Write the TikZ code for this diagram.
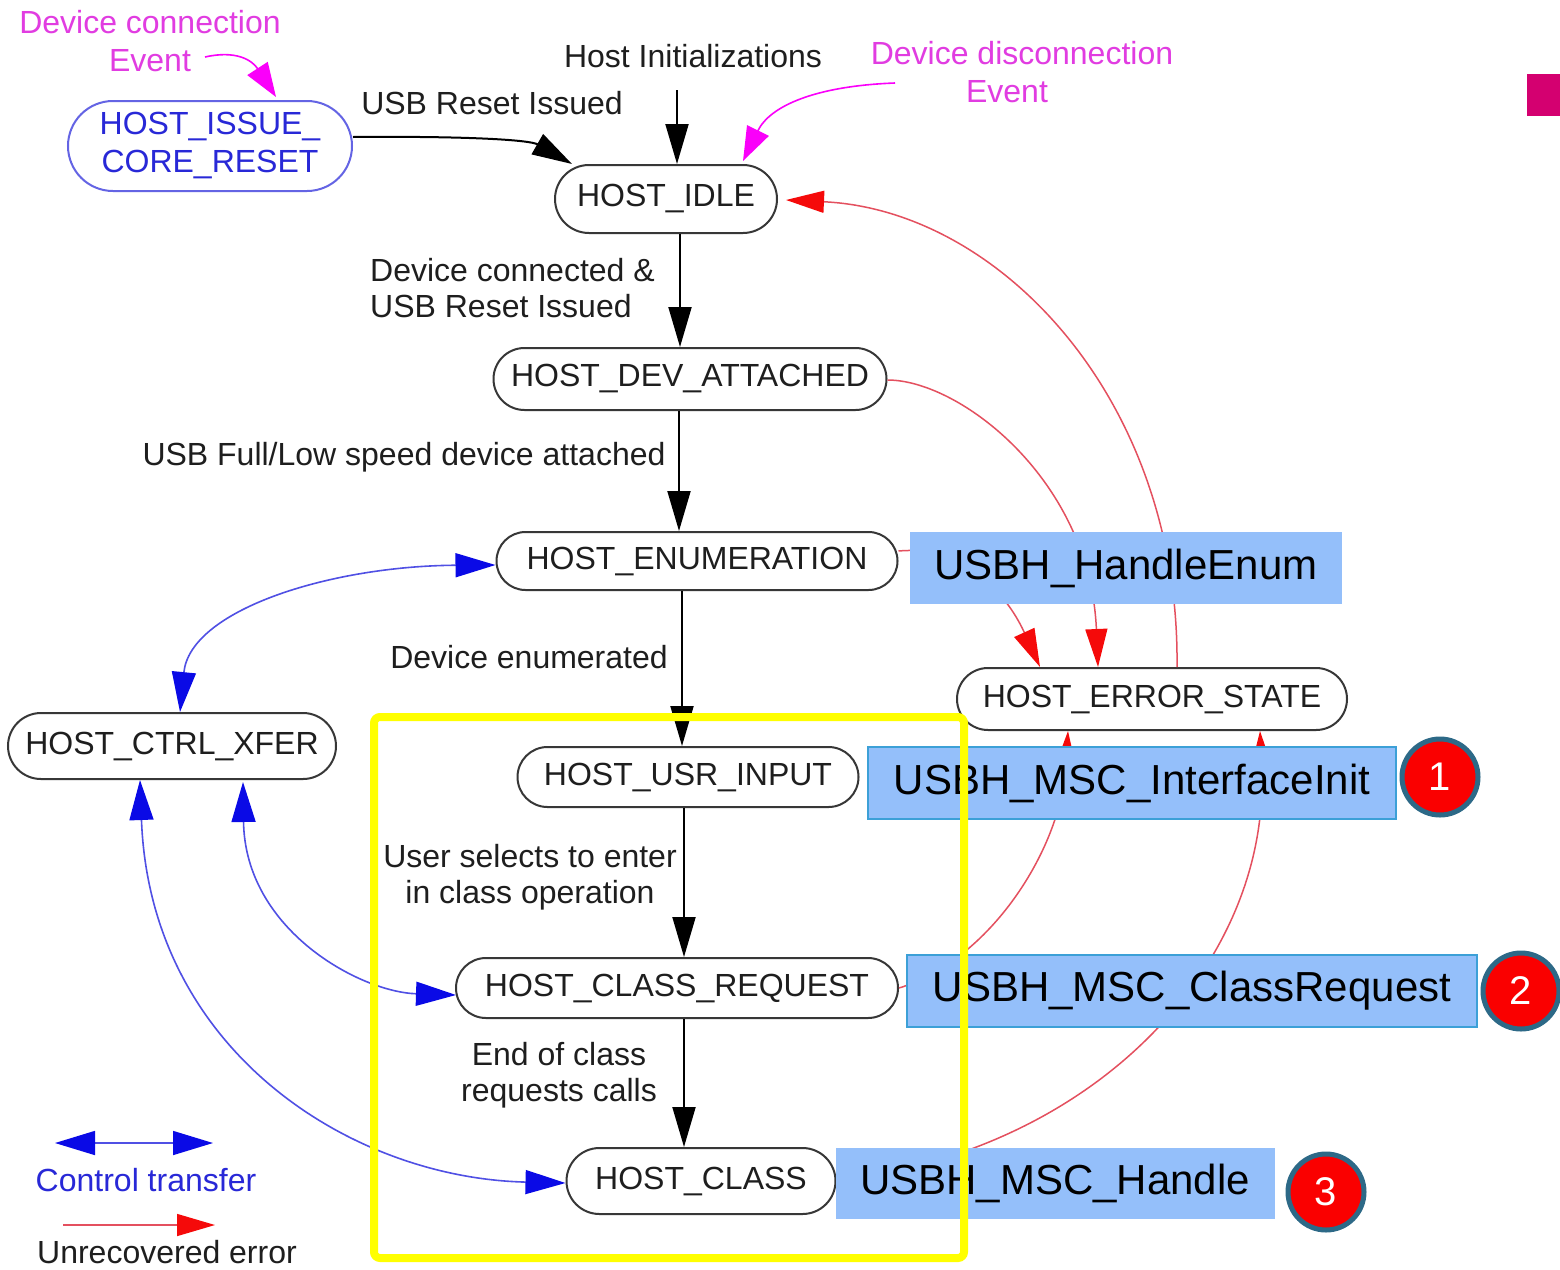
\documentclass[tikz,border=0pt]{standalone}
\usepackage{fontspec}
\setmainfont{Liberation Sans}
\usetikzlibrary{arrows.meta,shapes.misc,calc}

\definecolor{nodeline}{RGB}{55,55,55}
\definecolor{txt}{RGB}{30,30,30}
\definecolor{ctrlblue}{RGB}{80,80,228}
\definecolor{tipblue}{RGB}{10,10,230}
\definecolor{issueblue}{RGB}{40,40,215}
\definecolor{issueedge}{RGB}{100,100,228}
\definecolor{errred}{RGB}{228,80,95}
\definecolor{tipred}{RGB}{245,10,10}
\definecolor{evmag}{RGB}{225,60,225}
\definecolor{tipmag}{RGB}{250,0,250}
\definecolor{fnfill}{RGB}{148,191,250}
\definecolor{fnedge}{RGB}{60,160,215}
\definecolor{badgered}{RGB}{250,0,0}
\definecolor{badgeedge}{RGB}{45,105,135}
\definecolor{framey}{RGB}{255,255,0}
\definecolor{cornerpink}{RGB}{212,0,112}

\begin{document}
\begin{tikzpicture}[x=1pt,y=-1pt,
  hstate/.style={rounded rectangle, draw=nodeline, line width=2pt, fill=white,
    text=txt, font=\fontsize{32}{37}\selectfont, inner sep=0pt},
  lbl/.style={text=txt, font=\fontsize{32}{35.5}\selectfont, inner sep=0pt},
  evlbl/.style={text=evmag, font=\fontsize{32}{38}\selectfont, inner sep=0pt, align=center},
  flow/.style={draw=black, line width=2pt, -{Triangle[length=40pt,width=23pt]}},
  ctrl/.style={draw=ctrlblue, line width=1.6pt,
    {Triangle[length=40pt,width=24pt,color=tipblue]}-{Triangle[length=40pt,width=24pt,color=tipblue]}},
  errflow/.style={draw=errred, line width=1.5pt, -{Triangle[length=38pt,width=22pt,color=tipred]}},
  evflow/.style={draw=tipmag, line width=1.6pt, -{Triangle[length=34pt,width=24pt,color=tipmag]}},
  fnbox/.style={fill=fnfill, text=black, font=\fontsize{42}{46}\selectfont, inner sep=0pt, minimum height=72pt},
  fnedged/.style={fnbox, draw=fnedge, line width=2pt},
  badge/.style={circle, fill=badgered, draw=badgeedge, line width=5pt, minimum size=76pt,
    inner sep=0pt, text=white, font=\fontsize{40}{40}\selectfont}
]
\useasboundingbox (0,0) rectangle (1560,1269);
\fill[white] (0,0) rectangle (1560,1269);

% ---- states ----
\node[hstate, draw=issueedge, text=issueblue, align=center, minimum width=284pt, minimum height=90pt,
  font=\fontsize{32}{38}\selectfont] (issue) at (210,146) {HOST\_ISSUE\_\\CORE\_RESET};
\node[hstate, minimum width=222pt, minimum height=68pt] (idle) at (666,199) {HOST\_IDLE};
\node[hstate, minimum width=393pt, minimum height=62pt] (att) at (690,379) {HOST\_DEV\_ATTACHED};
\node[hstate, minimum width=401pt, minimum height=58pt] (enum) at (697,561) {HOST\_ENUMERATION};
\node[hstate, minimum width=390pt, minimum height=62pt] (errst) at (1152,699) {HOST\_ERROR\_STATE};
\node[hstate, minimum width=328pt, minimum height=66pt] (xfer) at (172,746) {HOST\_CTRL\_XFER};
\node[hstate, minimum width=341pt, minimum height=60pt] (usr) at (688,777) {HOST\_USR\_INPUT};
\node[hstate, minimum width=442pt, minimum height=60pt] (creq) at (677,988) {HOST\_CLASS\_REQUEST};
\node[hstate, minimum width=269pt, minimum height=66pt] (cls) at (701,1181) {HOST\_CLASS};

% ---- transition labels ----
\node[lbl] (linit) at (693,56) {Host Initializations};
\node[lbl] (lreset) at (492,103) {USB Reset Issued};
\node[lbl, align=left, anchor=west] (lconn) at (370,288) {Device connected \&\\USB Reset Issued};
\node[lbl] (lspeed) at (404,457) {USB Full/Low speed device attached};
\node[lbl] (lenum) at (529,657) {Device enumerated};
\node[lbl, align=center] (lsel) at (530,877) {User selects to enter\\in class operation};
\node[lbl, align=center] (lend) at (559,1075) {End of class\\requests calls};

% ---- events ----
\node[evlbl] (evconn) at (150,41) {Device connection\\Event};
\node[evlbl] (evdisc) at (1022,72) {Device disconnection\\\hspace*{-30pt}Event};
\coordinate (evconnA) at (205,57);
\coordinate (evdiscA) at (895,83);
\draw[evflow] (evconnA) .. controls (236,50) and (252,60) .. ($(issue.north east)+(-31,-3)$);
\draw[evflow] (evdiscA) .. controls (815,86) and (770,106) .. ($(idle.north east)+(0,-3)$);

% ---- main flow ----
\coordinate (initA) at (677,90);
\draw[flow] (initA) -- (initA |- idle.north);
\draw[flow] ($(issue.east)+(0,-9)$) .. controls (470,136) and (530,140) .. ($(idle.north west)+(-17,0)$);
\draw[flow] ($(idle.south)+(14,0)$) -- ($(att.north)+(-10,0)$);
\draw[flow] ($(att.south)+(-11,0)$) -- ($(enum.north)+(-18,0)$);
\draw[flow] ($(enum.south)+(-15,0)$) -- ($(usr.north)+(-6,0)$);
\draw[flow] ($(usr.south)+(-4,0)$) -- ($(creq.north)+(7,0)$);
\draw[flow] ($(creq.south)+(7,0)$) -- ($(cls.north)+(-17,0)$);

% ---- control transfers ----
\draw[ctrl] ($(xfer.north)+(8,0)$) .. controls (190,610) and (330,566) .. ($(enum.west)+(0,4)$);
\draw[ctrl] ($(xfer.south)+(71,2)$) .. controls (245,930) and (360,992) .. ($(creq.west)+(1,7)$);
\draw[ctrl] ($(xfer.south)+(-32,0)$) .. controls (150,1050) and (350,1178) .. ($(cls.west)+(0,2)$);

% ---- unrecovered errors ----
\draw[errflow] ($(errst.north)+(25,0)$) .. controls (1180,400) and (1000,210) .. ($(idle.east)+(8,1)$);
\draw[errflow] ($(att.east)+(0,1)$) .. controls (960,380) and (1090,480) .. ($(errst.north)+(-54,0)$);
\draw[errflow] ($(enum.east)+(0,-10)$) .. controls (960,545) and (1005,590) .. ($(errst.north)+(-112,0)$);
\draw[errflow] (creq.east) .. controls (990,960) and (1060,850) .. ($(errst.south)+(-84,0)$);
\draw[errflow] (cls.east) .. controls (1100,1150) and (1270,960) .. ($(errst.south)+(108,0)$);

% ---- handler boxes ----
\node[fnbox, minimum width=432pt] (fenum) at (1126,568) {USBH\_HandleEnum};
\node[fnedged, minimum width=528pt] (finit) at (1132,783) {USBH\_MSC\_InterfaceInit};
\node[fnedged, minimum width=570pt] (fcreq) at (1192,991) {USBH\_MSC\_ClassRequest};
\node[fnbox, minimum width=439pt, minimum height=71pt] (fhandle) at (1055,1183) {USBH\_MSC\_Handle};

\node[badge] (b1) at (1440,777) {1};
\node[badge] (b2) at (1521,991) {2};
\node[badge] (b3) at (1326,1192) {3};

\fill[cornerpink] (1527,74) rectangle (1560,116);

% ---- legend ----
\coordinate (lgA) at (55,1143);
\coordinate (lgB) at (213,1143);
\draw[ctrl] (lgA) -- (lgB);
\node[lbl, text=issueblue] (lgctrl) at (146,1180) {Control transfer};
\coordinate (lgC) at (63,1225);
\coordinate (lgD) at (215,1225);
\draw[errflow] (lgC) -- (lgD);
\node[lbl] (lgerr) at (167,1252) {Unrecovered error};

% ---- highlight frame ----
\draw[framey, line width=8pt, rounded corners=6pt] (374,717) rectangle (964,1258);
\end{tikzpicture}
\end{document}
